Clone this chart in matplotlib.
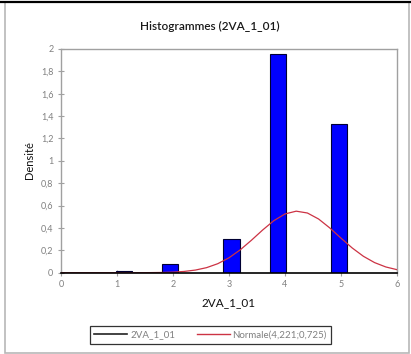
import matplotlib
matplotlib.use("Agg")
import matplotlib.pyplot as plt
from matplotlib.lines import Line2D
from matplotlib.patches import Rectangle

# ---- data ----
bar_left = [0.98, 1.80, 2.90, 3.73, 4.82]
bar_width = [0.29, 0.29, 0.29, 0.29, 0.29]
bar_height = [0.018, 0.078, 0.30, 1.955, 1.325]

curve_x = [0.0, 0.2, 0.4, 0.6, 0.8, 1.0, 1.2, 1.4, 1.6, 1.8, 2.0, 2.2, 2.4, 2.6, 2.8,
           3.0, 3.2, 3.4, 3.6, 3.8, 4.0, 4.2, 4.4, 4.6, 4.8, 5.0, 5.2, 5.4, 5.6, 5.8, 6.0]
curve_y = [0.0, 0.0, 0.0, 0.0, 0.0, 0.0, 0.0, 0.0002, 0.0008, 0.0021, 0.0050, 0.0113,
           0.0235, 0.0452, 0.0806, 0.1333, 0.2042, 0.2899, 0.3813, 0.4649, 0.5253,
           0.5501, 0.5338, 0.4800, 0.4001, 0.3089, 0.2212, 0.1467, 0.0902, 0.0513, 0.0271]

x_ticks = [0, 1, 2, 3, 4, 5, 6]
y_ticks = [0, 0.2, 0.4, 0.6, 0.8, 1.0, 1.2, 1.4, 1.6, 1.8, 2.0]
y_ticklabels = ["0", "0,2", "0,4", "0,6", "0,8", "1", "1,2", "1,4", "1,6", "1,8", "2"]

title = "Histogrammes (2VA_1_01)"
xlabel = "2VA_1_01"
ylabel = "Densité"
legend_labels = ["2VA_1_01", "Normale(4,221;0,725)"]

plt.rcParams['font.family'] = ['Lato', 'DejaVu Sans']

W, H = 411, 354
fig = plt.figure(figsize=(W / 100, H / 100), dpi=100)
fig.patch.set_facecolor('white')

# outer frame
fig.patches.append(Rectangle((5 / W, 1 / H), 404 / W, 351 / H, transform=fig.transFigure,
                             fill=False, edgecolor='#b8b8b8', linewidth=1.2))
fig.lines.append(Line2D([0, 1], [1 - 1.5 / H, 1 - 1.5 / H], transform=fig.transFigure,
                        color='black', linewidth=1.6))

ax = fig.add_axes([61 / W, 1 - 272.7 / H, 336 / W, (272.7 - 49) / H])

ax.bar(bar_left, bar_height, width=bar_width, align='edge', color='#0000ff',
       edgecolor='#000033', linewidth=0.8, zorder=2)
ax.plot(curve_x, curve_y, color='#cc3344', linewidth=0.9, zorder=3)

ax.set_xlim(0, 6)
ax.set_ylim(0, 2)
ax.set_xticks(x_ticks)
ax.set_xticklabels([str(t) for t in x_ticks])
ax.set_yticks(y_ticks)
ax.set_yticklabels(y_ticklabels)

for s in ['top', 'right', 'left']:
    ax.spines[s].set_color('#a0a0a0')
    ax.spines[s].set_linewidth(1.0)
ax.spines['bottom'].set_color('black')
ax.spines['bottom'].set_linewidth(1.2)
ax.spines['bottom'].set_zorder(4)

ax.tick_params(axis='both', direction='inout', length=5, width=0.8, color='#a0a0a0',
               labelsize=6.5, labelcolor='#808080')
ax.tick_params(axis='x', pad=3)
ax.tick_params(axis='y', pad=3)

fig.text(209.5 / W, 1 - 26 / H, title, ha='center', va='center', fontsize=8.5,
         fontweight='semibold', color='#1a1a1a')
fig.text(30 / W, 1 - 160 / H, ylabel, ha='center', va='center', rotation=90,
         fontsize=8, color='#111111')
fig.text(229 / W, 1 - 303 / H, xlabel, ha='center', va='center', fontsize=8.5,
         color='#111111')

handles = [Line2D([], [], color='#222222', linewidth=1.2),
           Line2D([], [], color='#cc3344', linewidth=1.0)]
leg = fig.legend(handles, legend_labels, loc='center', ncol=2,
                 bbox_to_anchor=(210.5 / W, 1 - 335 / H), frameon=True, fancybox=False,
                 edgecolor='black', fontsize=7, handlelength=3.4, columnspacing=2.2,
                 handletextpad=0.3, borderpad=0.45, labelcolor='#808080')
leg.get_frame().set_linewidth(0.9)

fig.savefig('out.png', dpi=100)
